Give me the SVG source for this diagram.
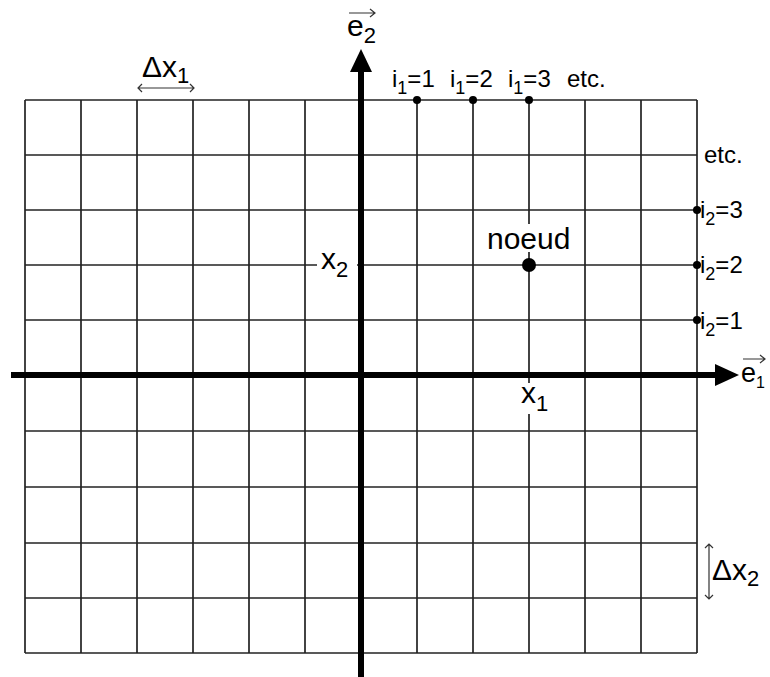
<svg xmlns="http://www.w3.org/2000/svg" width="770" height="677" viewBox="0 0 770 677">
<style>
text{font-family:"Liberation Sans",Arial,sans-serif;fill:#000}
.grid line{stroke:#222;stroke-width:1.7}
.ax{stroke:#000;stroke-width:6;fill:none}
.thin{stroke:#333;stroke-width:1.2;fill:none}
.big{font-size:30px}
.sm{font-size:24px}
.sub{font-size:22px}
.ssub{font-size:18px}
</style>
<rect width="770" height="677" fill="#fff"/>
<g id="grid" class="grid">
<line x1="25" y1="100" x2="25" y2="653"/><line x1="81" y1="100" x2="81" y2="653"/><line x1="137" y1="100" x2="137" y2="653"/><line x1="193" y1="100" x2="193" y2="653"/><line x1="249" y1="100" x2="249" y2="653"/><line x1="305" y1="100" x2="305" y2="653"/><line x1="417" y1="100" x2="417" y2="653"/><line x1="473" y1="100" x2="473" y2="653"/><line x1="529" y1="100" x2="529" y2="653"/><line x1="585" y1="100" x2="585" y2="653"/><line x1="641" y1="100" x2="641" y2="653"/><line x1="697" y1="100" x2="697" y2="653"/>
<line x1="25" y1="100" x2="697" y2="100"/><line x1="25" y1="155" x2="697" y2="155"/><line x1="25" y1="210" x2="697" y2="210"/><line x1="25" y1="265" x2="697" y2="265"/><line x1="25" y1="320" x2="697" y2="320"/><line x1="25" y1="431" x2="697" y2="431"/><line x1="25" y1="487" x2="697" y2="487"/><line x1="25" y1="543" x2="697" y2="543"/><line x1="25" y1="598" x2="697" y2="598"/><line x1="25" y1="653" x2="697" y2="653"/>
</g>
<g id="connectors">
<line class="ax" x1="11" y1="375" x2="717" y2="375"/>
<polygon points="715,364 739,375 715,386" fill="#000"/>
<line class="ax" x1="361" y1="677" x2="361" y2="70"/>
<polygon points="350,72 361,49 372,72" fill="#000"/>
<path class="thin" d="M138,88 H194 M142,84 L138,88 L142,92 M190,84 L194,88 L190,92"/>
<path class="thin" d="M709,544 V599 M705,548 L709,544 L713,548 M705,595 L709,599 L713,595"/>
<path class="thin" d="M349,13 H375 M370,9 L375,13 L370,17"/>
<path class="thin" d="M743,359 H765 M760,355 L765,359 L760,363"/>
</g>
<g id="node-noeud">
<rect x="486" y="224" width="87" height="28" fill="#fff"/>
<text class="big" x="487" y="249">noeud</text>
<circle cx="529" cy="265" r="7" fill="#000"/>
</g>
<g id="label-x2">
<rect x="317" y="252" width="40" height="30" fill="#fff"/>
<text class="big" x="321" y="269">x<tspan class="sub" dy="8">2</tspan></text>
</g>
<g id="label-x1">
<rect x="519" y="383" width="30" height="31" fill="#fff"/>
<text class="big" x="521" y="403">x<tspan class="sub" dy="8">1</tspan></text>
</g>
<g id="label-e2">
<text class="big" x="347" y="36">e<tspan class="sub" dy="7">2</tspan></text>
</g>
<g id="label-e1">
<text x="741" y="382" font-size="27">e<tspan dy="6" font-size="16">1</tspan></text>
</g>
<g id="label-dx1">
<text class="big" x="142" y="77">Δx<tspan class="sub" dy="6">1</tspan></text>
</g>
<g id="label-dx2">
<text class="big" x="712" y="580">Δx<tspan class="sub" dy="6">2</tspan></text>
</g>
<g id="index-i1">
<circle cx="417" cy="100" r="4" fill="#000"/>
<circle cx="473" cy="100" r="4" fill="#000"/>
<circle cx="529" cy="100" r="4" fill="#000"/>
<text class="sm" x="392" y="87">i<tspan class="ssub" dy="7">1</tspan><tspan dy="-7">=1</tspan></text>
<text class="sm" x="450" y="87">i<tspan class="ssub" dy="7">1</tspan><tspan dy="-7">=2</tspan></text>
<text class="sm" x="508" y="87">i<tspan class="ssub" dy="7">1</tspan><tspan dy="-7">=3</tspan></text>
<text class="sm" x="567" y="87">etc.</text>
</g>
<g id="index-i2">
<circle cx="697" cy="210" r="4" fill="#000"/>
<circle cx="697" cy="265" r="4" fill="#000"/>
<circle cx="697" cy="320" r="4" fill="#000"/>
<text class="sm" x="700" y="218">i<tspan class="ssub" dy="7">2</tspan><tspan dy="-7">=3</tspan></text>
<text class="sm" x="700" y="273">i<tspan class="ssub" dy="7">2</tspan><tspan dy="-7">=2</tspan></text>
<text class="sm" x="700" y="329">i<tspan class="ssub" dy="7">2</tspan><tspan dy="-7">=1</tspan></text>
<text class="sm" x="704" y="163">etc.</text>
</g>
</svg>
